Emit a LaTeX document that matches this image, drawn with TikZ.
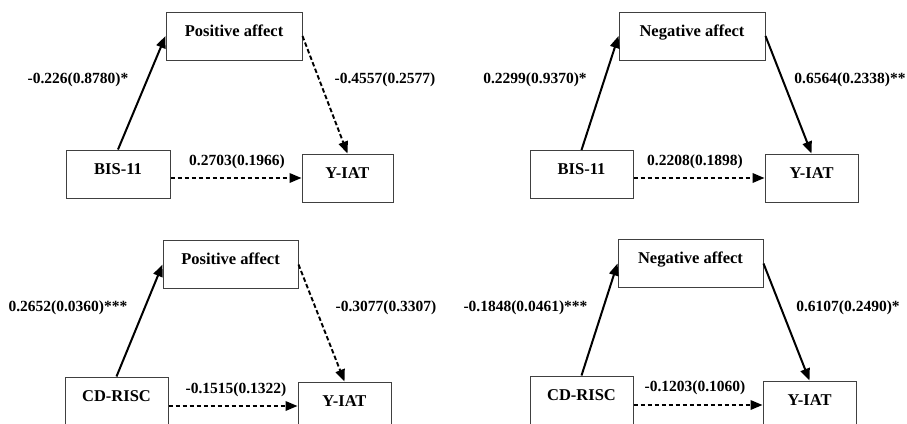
\documentclass[tikz,border=0pt]{standalone}
\usepackage{fontspec}
\setmainfont{Liberation Serif}
\usetikzlibrary{arrows.meta}

\begin{document}
\begin{tikzpicture}[x=1pt,y=-1pt,
    box/.style={draw=black!75,line width=1pt,inner sep=0pt,minimum height=48pt,
        text height=11pt,text depth=11pt,font=\fontsize{16.5}{19}\selectfont\bfseries},
    coef/.style={font=\fontsize{15.5}{18}\selectfont\bfseries},
    sig/.style={line width=2pt,-{Triangle[length=12pt,width=9.5pt]}},
    nsig/.style={sig,line width=1.9pt,dash pattern=on 4.5pt off 2.5pt}]
    \clip (0,0) rectangle (907,423);
    % BIS-11 -> positive affect
    \node[box,minimum width=136pt] (pa1) at (234,36) {Positive affect};
    \node[box,minimum width=104pt] (bis1) at (118,174) {BIS-11};
    \node[box,minimum width=91pt] (yiat1) at (347.5,178) {Y-IAT};
    \draw[sig] (bis1.north) -- (pa1.west);
    \draw[nsig] (pa1.east) -- (yiat1.north);
    \draw[nsig] (bis1.east |- yiat1) -- (yiat1.west);
    \node[coef] (a1) at (78,80) {-0.226(0.8780)*};
    \node[coef] (b1) at (385,80) {-0.4557(0.2577)};
    \node[coef] (c1) at (237,162) {0.2703(0.1966)};
    % BIS-11 -> negative affect
    \node[box,minimum width=146pt] (na2) at (692,36) {Negative affect};
    \node[box,minimum width=103pt] (bis2) at (581.5,174.5) {BIS-11};
    \node[box,minimum width=93pt] (yiat2) at (811.5,178) {Y-IAT};
    \draw[sig] (bis2.north) -- (na2.west);
    \draw[sig] (na2.east) -- (yiat2.north);
    \draw[nsig] (bis2.east |- yiat2) -- (yiat2.west);
    \node[coef] (a2) at (535,80) {0.2299(0.9370)*};
    \node[coef] (b2) at (850,80) {0.6564(0.2338)**};
    \node[coef] (c2) at (695,162) {0.2208(0.1898)};
    % CD-RISC -> positive affect
    \node[box,minimum width=135pt] (pa3) at (230.5,264.5) {Positive affect};
    \node[box,minimum width=103pt] (cd3) at (116.5,401) {CD-RISC};
    \node[box,minimum width=93pt] (yiat3) at (344.5,406) {Y-IAT};
    \draw[sig] (cd3.north) -- (pa3.west);
    \draw[nsig] (pa3.east) -- (yiat3.north);
    \draw[nsig] (cd3.east |- yiat3) -- (yiat3.west);
    \node[coef] (a3) at (68,308) {0.2652(0.0360)***};
    \node[coef] (b3) at (386,308) {-0.3077(0.3307)};
    \node[coef] (c3) at (236,390) {-0.1515(0.1322)};
    % CD-RISC -> negative affect
    \node[box,minimum width=145pt] (na4) at (690.5,263.5) {Negative affect};
    \node[box,minimum width=103pt] (cd4) at (581.5,400) {CD-RISC};
    \node[box,minimum width=93pt] (yiat4) at (809.5,405) {Y-IAT};
    \draw[sig] (cd4.north) -- (na4.west);
    \draw[sig] (na4.east) -- (yiat4.north);
    \draw[nsig] (cd4.east |- yiat4) -- (yiat4.west);
    \node[coef] (a4) at (525.5,308) {-0.1848(0.0461)***};
    \node[coef] (b4) at (848,308) {0.6107(0.2490)*};
    \node[coef] (c4) at (695,388) {-0.1203(0.1060)};
\end{tikzpicture}
\end{document}
